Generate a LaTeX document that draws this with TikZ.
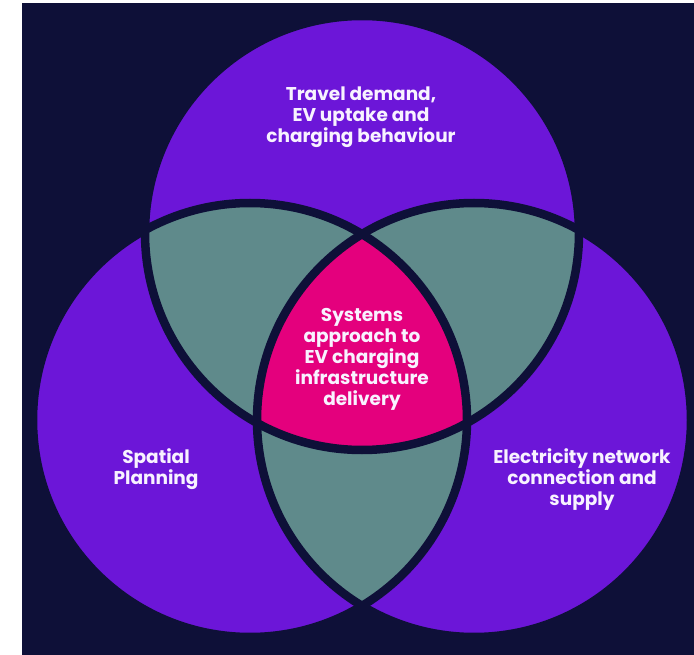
\documentclass[tikz,border=0pt]{standalone}
\usepackage{fontspec}
\setmainfont{Poppins}
\definecolor{navy}{RGB}{14,16,56}
\definecolor{vpurple}{RGB}{108,22,216}
\definecolor{vteal}{RGB}{95,138,139}
\definecolor{vmagenta}{RGB}{228,0,125}
\definecolor{vtext}{RGB}{248,242,255}
\tikzset{
  lbl/.style={text=vtext, align=center, inner sep=0pt,
    font=\bfseries\fontsize{18.5}{21}\selectfont},
  ring/.style={draw=navy, line width=8.5pt}
}
\begin{document}
\begin{tikzpicture}[x=1pt,y=-1pt]
\useasboundingbox (0,0) rectangle (694,655);
\fill[white] (0,0) rectangle (694,655);
\fill[navy] (22,3) rectangle (694,655);
\def\R{217}
\coordinate (ct) at (362,233);
\coordinate (cl) at (250,420);
\coordinate (cr) at (474,420);
% circles
\fill[vpurple] (ct) circle (\R);
\fill[vpurple] (cl) circle (\R);
\fill[vpurple] (cr) circle (\R);
% pairwise
\begin{scope}
  \clip (ct) circle (\R);
  \fill[vteal] (cl) circle (\R);
  \fill[vteal] (cr) circle (\R);
\end{scope}
\begin{scope}
  \clip (cl) circle (\R);
  \fill[vteal] (cr) circle (\R);
\end{scope}
% triple
\begin{scope}
  \clip (ct) circle (\R);
  \clip (cl) circle (\R);
  \fill[vmagenta] (cr) circle (\R);
\end{scope}
% outlines
\draw[ring] (ct) circle (\R);
\draw[ring] (cl) circle (\R);
\draw[ring] (cr) circle (\R);
% labels
\node[lbl] (ttop) at (361,117.5) {Travel demand,\\EV uptake and\\charging behaviour};
\node[lbl] (tcen) at (362,359) {Systems\\approach to\\EV charging\\infrastructure\\delivery};
\node[lbl] (tleft) at (156,469) {Spatial\\Planning};
\node[lbl] (tright) at (582,480) {Electricity network\\connection and\\supply};
\end{tikzpicture}
\end{document}
